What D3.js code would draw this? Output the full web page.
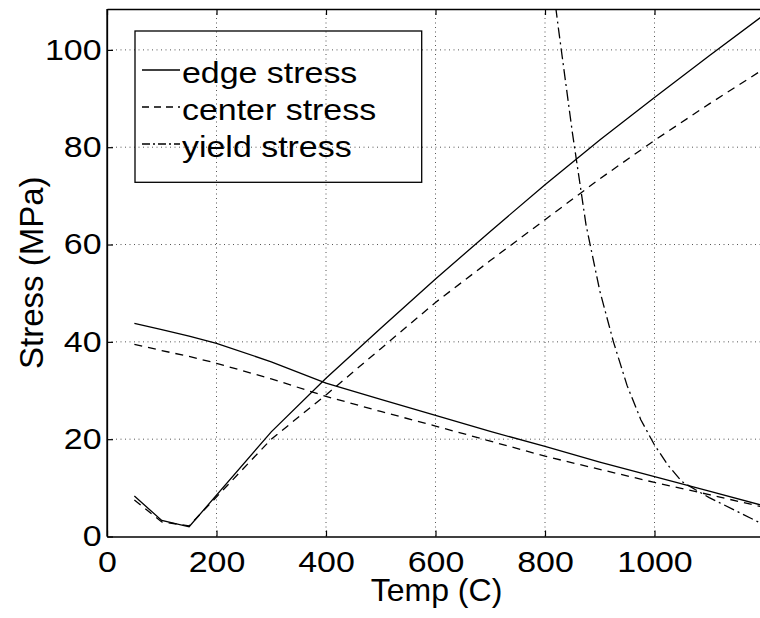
<!DOCTYPE html>
<html>
<head>
<meta charset="utf-8">
<script src="https://cdn.jsdelivr.net/npm/d3@7/dist/d3.min.js"></script>
<style>
  html, body { margin: 0; padding: 0; background: #fff; }
  svg { display: block; }
  text { font-family: "Liberation Sans", Arial, Helvetica, sans-serif; fill: #000; }
</style>
</head>
<body>
<svg id="chart" width="760" height="618"></svg>
<script>
// ---- data ----
const edgeTemp     = [50, 100, 150, 200, 300, 400, 500, 600, 700, 800, 900, 1000, 1100, 1200];
const edgeFalling  = [43.8, 42.5, 41.2, 39.7, 35.9, 31.5, 28.2, 24.9, 21.6, 18.5, 15.3, 12.3, 9.3, 6.3];
const centerFalling= [39.5, 38.2, 37.0, 35.6, 32.4, 28.8, 25.7, 22.7, 19.6, 16.5, 13.8, 11.1, 8.6, 6.0];

const riseTemp     = [50, 100, 150, 300, 400, 500, 600, 700, 800, 900, 1000, 1100, 1200];
const edgeRising   = [8.3, 3.3, 2.0, 21.5, 32.5, 42.8, 52.9, 62.7, 72.3, 81.5, 90.2, 98.8, 107.2];
const centerRising = [7.5, 3.0, 2.2, 20.0, 29.1, 38.6, 48.1, 56.7, 65.1, 73.5, 81.4, 88.9, 96.1];

const yieldTemp    = [800, 825, 850, 875, 900, 925, 950, 975, 1000, 1025, 1050, 1075, 1100, 1125, 1150, 1175, 1200];
const yieldStress  = [126, 104, 83, 64, 50.5, 40, 31, 24, 18.8, 14.6, 11.3, 9.6, 8.0, 6.6, 5.2, 3.8, 2.4];

const xTicks = [0, 200, 400, 600, 800, 1000, 1200];
const yTicks = [0, 20, 40, 60, 80, 100];
const legendLabels = ["edge stress", "center stress", "yield stress"];

// ---- layout ----
const svg = d3.select("#chart");
const L = 107, R = 764, T = 9, B = 536.5;
const x = d3.scaleLinear().domain([0, 1200]).range([L, R]);
const y = d3.scaleLinear().domain([0, 108.4]).range([B, T]);

const stretch = 1.17;

// grid
const grid = svg.append("g").attr("stroke", "#555").attr("stroke-width", 1)
  .attr("stroke-dasharray", "1,3.5");
grid.selectAll("line.gx").data(xTicks.filter(d => d > 0 && d < 1200)).join("line")
  .attr("x1", d => x(d)).attr("x2", d => x(d)).attr("y1", T).attr("y2", B);
grid.selectAll("line.gy").data(yTicks.filter(d => d > 0)).join("line")
  .attr("x1", L).attr("x2", R).attr("y1", d => y(d)).attr("y2", d => y(d));

// clip
svg.append("clipPath").attr("id", "clip").append("rect")
  .attr("x", L).attr("y", T).attr("width", R - L).attr("height", B - T);

const line = (xs, ys) => d3.line().x((d, i) => x(xs[i])).y(d => y(d))(ys);
const plot = svg.append("g").attr("clip-path", "url(#clip)")
  .attr("fill", "none").attr("stroke", "#000").attr("stroke-width", 1.3);

const dashCenter = "8,6";
const dashYield = "11,4,2,4";

plot.append("path").attr("d", line(edgeTemp, edgeFalling));
plot.append("path").attr("d", line(riseTemp, edgeRising));
plot.append("path").attr("d", line(edgeTemp, centerFalling)).attr("stroke-dasharray", dashCenter);
plot.append("path").attr("d", line(riseTemp, centerRising)).attr("stroke-dasharray", dashCenter);
plot.append("path").attr("d", line(yieldTemp, yieldStress)).attr("stroke-dasharray", dashYield);

// axes
const xAxis = svg.append("g").attr("transform", `translate(0,${B})`)
  .call(d3.axisBottom(x).tickValues(xTicks.filter(d => d < 1200)).tickFormat(d3.format("d"))
        .tickSizeInner(-6).tickSizeOuter(0).tickPadding(14.5));
const xAxisTop = svg.append("g").attr("transform", `translate(0,${T})`)
  .call(d3.axisTop(x).tickValues(xTicks.filter(d => d < 1200)).tickFormat("")
        .tickSizeInner(-6).tickSizeOuter(0));
const yAxis = svg.append("g").attr("transform", `translate(${L},0)`)
  .call(d3.axisLeft(y).tickValues(yTicks).tickFormat(d3.format("d"))
        .tickSizeInner(-6).tickSizeOuter(0).tickPadding(4.7));

[xAxis, xAxisTop, yAxis].forEach(g => {
  g.selectAll(".domain").attr("stroke", "#000").attr("stroke-width", 1.3);
  g.selectAll(".tick line").attr("stroke", "#000").attr("stroke-width", 1.2);
  g.selectAll("text").attr("font-family", "Liberation Sans, Arial, sans-serif")
    .attr("font-size", 29).attr("fill", "#000").attr("transform", `scale(${stretch},1)`);
});
// left axis line full height
svg.append("line").attr("x1", L).attr("x2", L).attr("y1", T).attr("y2", B)
  .attr("stroke", "#000").attr("stroke-width", 1.3);

// axis titles
svg.append("text").attr("x", (L + R) / 2 + 1).attr("y", 601)
  .attr("text-anchor", "middle").attr("font-size", 32).text("Temp (C)");
svg.append("text").attr("transform", `translate(43,${(T + B) / 2}) rotate(-90)`)
  .attr("text-anchor", "middle").attr("font-size", 33).text("Stress (MPa)");

// legend
const lg = svg.append("g");
lg.append("rect").attr("x", 135).attr("y", 31).attr("width", 286.7).attr("height", 151.3)
  .attr("fill", "none").attr("stroke", "#000").attr("stroke-width", 1.3);
const rowsY = [70, 107, 144];
const dashes = [null, dashCenter, dashYield];
legendLabels.forEach((lab, i) => {
  const ln = lg.append("line").attr("x1", 142).attr("x2", 180).attr("y1", rowsY[i]).attr("y2", rowsY[i])
    .attr("stroke", "#000").attr("stroke-width", 1.3);
  if (dashes[i]) ln.attr("stroke-dasharray", i === 1 ? "7,5" : "8,3,2,3");
  lg.append("text").attr("transform", `translate(182,${rowsY[i] + 13}) scale(${stretch},1)`)
    .attr("font-size", 29).text(lab);
});
</script>
</body>
</html>
